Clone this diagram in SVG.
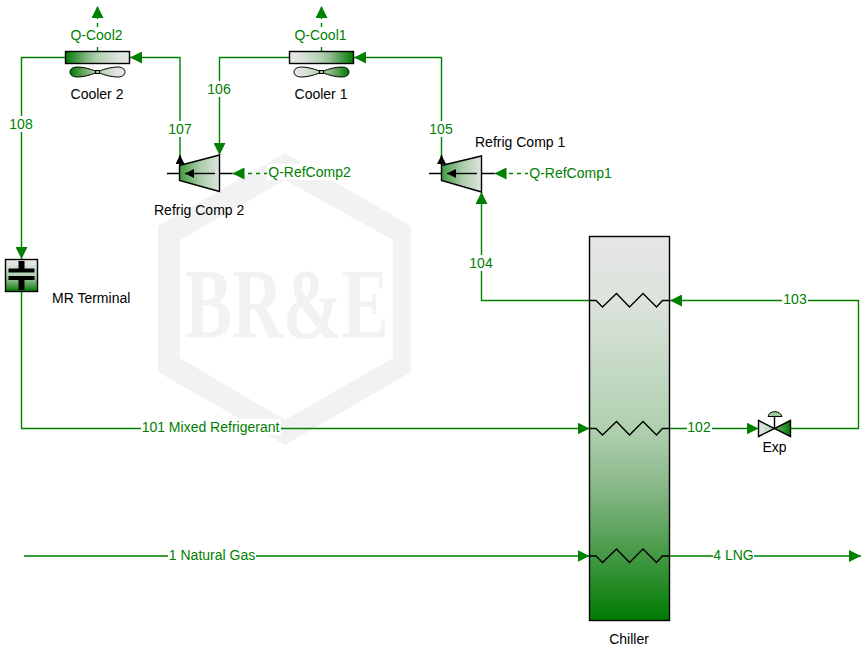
<svg xmlns="http://www.w3.org/2000/svg" width="868" height="651" viewBox="0 0 868 651">
<style>
text{font-family:"Liberation Sans",Arial,sans-serif;font-size:14px}
.s{fill:none;stroke:#008000;stroke-width:1.4}
.d{stroke-dasharray:4 4}
.a{marker-end:url(#ah)}
.l{fill:#008000;text-anchor:middle}
.bg{fill:#fff}
.n{fill:#000;text-anchor:middle}
.o{stroke:#000;stroke-width:1.4}
.k{fill:none;stroke:#000;stroke-width:1.4}
.bk{fill:#000}
.hub{fill:#9cc69c;stroke:#000;stroke-width:1}
</style>
<defs>
<marker id="ah" markerUnits="userSpaceOnUse" markerWidth="12" markerHeight="12" refX="12" refY="6" orient="auto"><path d="M0 0L12 6L0 12Z" fill="#008000"/></marker>
<marker id="bh" markerUnits="userSpaceOnUse" markerWidth="9" markerHeight="9" refX="9" refY="4.5" orient="auto"><path d="M0 0L9 4.5L0 9Z" fill="#000"/></marker>
<linearGradient id="gv" x2="0" y2="1"><stop offset="0" stop-color="#e6e6e6"/><stop offset=".17" stop-color="#dce3dc"/><stop offset=".5" stop-color="#b0d0b0"/><stop offset=".63" stop-color="#90bc90"/><stop offset=".76" stop-color="#60a560"/><stop offset="1" stop-color="#007a00"/></linearGradient>
<linearGradient id="gr" href="#gv" x2="1" y2="0"/>
<linearGradient id="gl" href="#gv" x1="1" x2="0" y2="0"/>
<linearGradient id="gc"><stop offset="0" stop-color="#3f9a3f"/><stop offset=".5" stop-color="#a8cba8"/><stop offset="1" stop-color="#dfe5df"/></linearGradient>
<linearGradient id="vl"><stop offset="0" stop-color="#e2e6e2"/><stop offset="1" stop-color="#b4d0b4"/></linearGradient>
<linearGradient id="vr"><stop offset="0" stop-color="#80b880"/><stop offset="1" stop-color="#007a00"/></linearGradient>
<path id="fan" d="M-2 -1C-7 -3 -14 -5 -20 -5C-27 -5 -27.500 -1 -27.500 0C-27.500 1 -27 5 -20 5C-14 5 -7 3 -2 1L2 1C7 3 14 5 20 5C27 5 27.500 1 27.500 0C27.500 -1 27 -5 20 -5C14 -5 7 -3 2 -1Z"/>
<path id="zz" d="M0 0H6.500L13 6.400L27 -7L40 6.400L53.500 -7L67 6.400L73 0H80"/>
</defs>
<g id="watermark">
<path fill="#f2f2f2" fill-rule="evenodd" d="M285 153L411 226V372L285 445L158 372V226ZM285 180L180 240V358L285 420L393 358V240Z"/>
<text transform="translate(185 337) scale(.706 1)" style="font-family:'Liberation Serif',serif;font-size:100px;font-weight:bold;fill:#f2f2f2">BR&amp;E</text>
</g>
<g id="connectors">
<path class="s a" d="M65 57.500H21.500V259"/>
<path class="s a" d="M180 165V57.500H130"/>
<path class="s a" d="M289 57.500H219.500V155"/>
<path class="s a" d="M441.500 165V57.500H354"/>
<path class="s a" d="M21.500 292V428.500H589.500"/>
<path class="s a" d="M669.500 428.500H758.500"/>
<path class="s a" d="M791 428.500H858.500V300.500H670"/>
<path class="s a" d="M589.500 300.500H481.500V192"/>
<path class="s a" d="M24 556H589.500"/>
<path class="s a" d="M669.500 556H861"/>
<path class="s d a" d="M97.500 51V6"/>
<path class="s d a" d="M321.500 51V6"/>
<path class="s d a" d="M268 173.500H232.500"/>
<path class="s d a" d="M529 173.500H494.500"/>
<g id="labels">
<rect class="bg" x="69" y="27" width="57" height="16"/><text class="l" x="96.500" y="40">Q-Cool2</text>
<rect class="bg" x="293" y="27" width="57" height="16"/><text class="l" x="320.500" y="40">Q-Cool1</text>
<rect class="bg" x="8" y="116" width="26" height="16"/><text class="l" x="21" y="129">108</text>
<rect class="bg" x="167" y="121" width="26" height="16"/><text class="l" x="180" y="134">107</text>
<rect class="bg" x="206" y="81" width="26" height="16"/><text class="l" x="219" y="94">106</text>
<rect class="bg" x="428" y="121" width="26" height="16"/><text class="l" x="441" y="134">105</text>
<rect class="bg" x="468" y="255" width="26" height="16"/><text class="l" x="481" y="268">104</text>
<rect class="bg" x="782" y="291" width="26" height="16"/><text class="l" x="795" y="304">103</text>
<rect class="bg" x="687" y="420" width="25" height="16"/><text class="l" x="699" y="432">102</text>
<rect class="bg" x="141" y="419" width="140" height="16"/><text class="l" x="210.500" y="432">101 Mixed Refrigerant</text>
<rect class="bg" x="168" y="548" width="88" height="16"/><text class="l" x="212" y="560">1 Natural Gas</text>
<rect class="bg" x="713" y="548" width="41" height="16"/><text class="l" x="733.500" y="560">4 LNG</text>
<rect class="bg" x="267" y="164" width="86" height="16"/><text class="l" x="309.500" y="177">Q-RefComp2</text>
<rect class="bg" x="528" y="164" width="86" height="16"/><text class="l" x="570.500" y="178">Q-RefComp1</text>
</g>
</g>
<g id="cooler2">
<rect x="65.500" y="51.500" width="64" height="12" fill="url(#gl)" class="o"/>
<use href="#fan" x="97.500" y="72" fill="url(#gl)" stroke="#000"/>
<rect class="hub" x="95.500" y="70.500" width="4" height="3"/>
<text class="n" x="97" y="99">Cooler 2</text>
</g>
<g id="cooler1">
<rect x="289.500" y="51.500" width="64" height="12" fill="url(#gr)" class="o"/>
<use href="#fan" x="321.500" y="72" fill="url(#gr)" stroke="#000"/>
<rect class="hub" x="319.500" y="70.500" width="4" height="3"/>
<text class="n" x="321" y="99">Cooler 1</text>
</g>
<g id="refrigcomp2">
<path class="k" d="M167 173.500H180M220 173.500H232.500"/>
<polygon points="179.500,165.500 219.500,155 219.500,191.500 179.500,180.500" fill="url(#gc)" class="o"/>
<path class="k" d="M215 173.500H185" marker-end="url(#bh)"/>
<path class="k" d="M180 165V155" marker-end="url(#bh)"/>
<text x="154" y="215">Refrig Comp 2</text>
</g>
<g id="refrigcomp1">
<path class="k" d="M429 173.500H442M482 173.500H494.500"/>
<polygon points="441.500,165.500 481.500,156 481.500,192 441.500,180.500" fill="url(#gc)" class="o"/>
<path class="k" d="M477 173.500H447" marker-end="url(#bh)"/>
<path class="k" d="M441.500 165V155" marker-end="url(#bh)"/>
<text x="475" y="147">Refrig Comp 1</text>
</g>
<g id="mrterminal">
<rect x="5.500" y="259.500" width="32" height="32" fill="url(#gv)" class="o"/>
<path class="bk" d="M18.500 261H24.500V268.500H34.500V272.500H8.500V268.500H18.500ZM8.500 276H34.500V280H24.500V290H18.500V280H8.500Z"/>
<text x="52" y="303">MR Terminal</text>
</g>
<g id="chiller">
<rect x="589.500" y="236.500" width="80" height="384" fill="url(#gv)" class="o"/>
<use href="#zz" x="589.500" y="300.500" class="k"/>
<use href="#zz" x="589.500" y="428.500" class="k"/>
<use href="#zz" x="589.500" y="556" class="k"/>
<text class="n" x="629" y="644">Chiller</text>
</g>
<g id="exp">
<path class="k" d="M774.500 428.500V416"/>
<path d="M768 416.500C769 410 780 410 782 416.500Z" fill="#9cc69c" stroke="#000"/>
<polygon points="758.500,420.500 774.500,428.500 758.500,436.500" fill="url(#vl)" class="o"/>
<polygon points="790.500,420.500 774.500,428.500 790.500,436.500" fill="url(#vr)" class="o"/>
<text class="n" x="774.500" y="452">Exp</text>
</g>
</svg>
